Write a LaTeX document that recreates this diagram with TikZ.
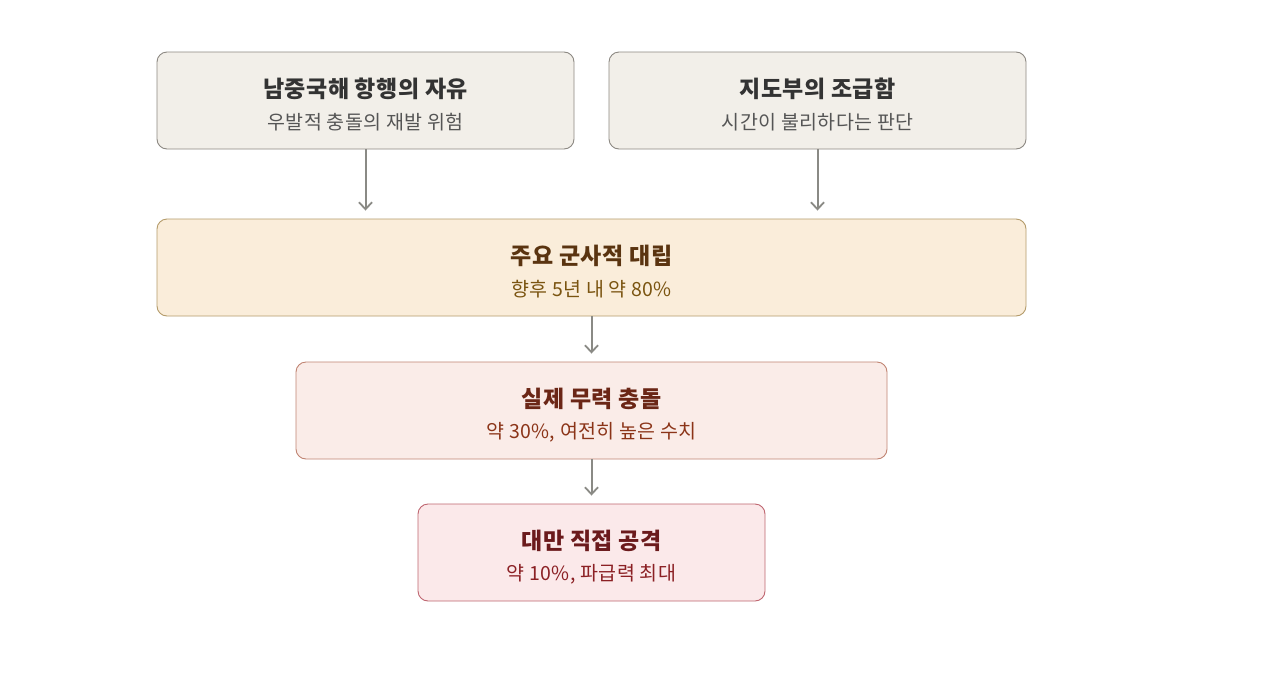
\documentclass[tikz,border=0pt]{standalone}
\usepackage{fontspec}
\setmainfont{Noto Sans CJK KR}[LetterSpace=2]
\usetikzlibrary{arrows.meta}
\definecolor{gfill}{HTML}{F2EFE9}
\definecolor{gdraw}{HTML}{8C8882}
\definecolor{gtitle}{HTML}{333333}
\definecolor{gsub}{HTML}{555555}
\definecolor{ofill}{HTML}{FAEDDA}
\definecolor{odraw}{HTML}{B49B6A}
\definecolor{otitle}{HTML}{5A3410}
\definecolor{osub}{HTML}{7A5410}
\definecolor{rfill}{HTML}{FAECE8}
\definecolor{rdraw}{HTML}{C08472}
\definecolor{rtitle}{HTML}{6B2616}
\definecolor{rsub}{HTML}{8B3418}
\definecolor{pfill}{HTML}{FBE9EA}
\definecolor{pdraw}{HTML}{BF6670}
\definecolor{ptitle}{HTML}{6B1A1C}
\definecolor{psub}{HTML}{8B2024}
\definecolor{arr}{HTML}{8A8A85}
\tikzset{
  box/.style={rounded corners=10pt, line width=0.9pt, inner sep=0pt, minimum height=97pt},
  ttl/.style={font=\fontsize{23}{27}\selectfont\bfseries, inner sep=0pt},
  sub/.style={font=\fontsize{19.5}{23}\selectfont, inner sep=0pt},
  conn/.style={draw=arr, line width=2pt, -{Straight Barb[length=7pt,width=13pt,line width=1.8pt]}, shorten >=8pt}
}
\begin{document}
\begin{tikzpicture}[x=1pt,y=-1pt]
\useasboundingbox (0,0) rectangle (1280,678);
\fill[white] (0,0) rectangle (1280,678);
\node[box, fill=gfill, draw=gdraw, minimum width=417pt] (b1) at (365.5,100.5) {};
\node[box, fill=gfill, draw=gdraw, minimum width=417pt] (b2) at (817.5,100.5) {};
\node[box, fill=ofill, draw=odraw, minimum width=869pt] (b3) at (591.5,267.5) {};
\node[box, fill=rfill, draw=rdraw, minimum width=591pt] (b4) at (591.5,410.5) {};
\node[box, fill=pfill, draw=pdraw, minimum width=347pt] (b5) at (591.5,552.5) {};
\node[ttl, text=gtitle] (t1) at ([yshift=12pt]b1.center) {남중국해 항행의 자유};
\node[sub, text=gsub] (s1) at ([yshift=-22pt]b1.center) {우발적 충돌의 재발 위험};
\node[ttl, text=gtitle] (t2) at ([yshift=12pt]b2.center) {지도부의 조급함};
\node[sub, text=gsub] (s2) at ([yshift=-22pt]b2.center) {시간이 불리하다는 판단};
\node[ttl, text=otitle] (t3) at ([yshift=12pt]b3.center) {주요 군사적 대립};
\node[sub, text=osub] (s3) at ([yshift=-22pt]b3.center) {향후 5년 내 약 80\%};
\node[ttl, text=rtitle] (t4) at ([yshift=12pt]b4.center) {실제 무력 충돌};
\node[sub, text=rsub] (s4) at ([yshift=-22pt]b4.center) {약 30\%, 여전히 높은 수치};
\node[ttl, text=ptitle] (t5) at ([yshift=12pt]b5.center) {대만 직접 공격};
\node[sub, text=psub] (s5) at ([yshift=-22pt]b5.center) {약 10\%, 파급력 최대};
\draw[conn] (b1.south) -- (b1.south |- b3.north);
\draw[conn] (b2.south) -- (b2.south |- b3.north);
\draw[conn] (b3.south) -- (b4.north);
\draw[conn] (b4.south) -- (b5.north);
\end{tikzpicture}
\end{document}
